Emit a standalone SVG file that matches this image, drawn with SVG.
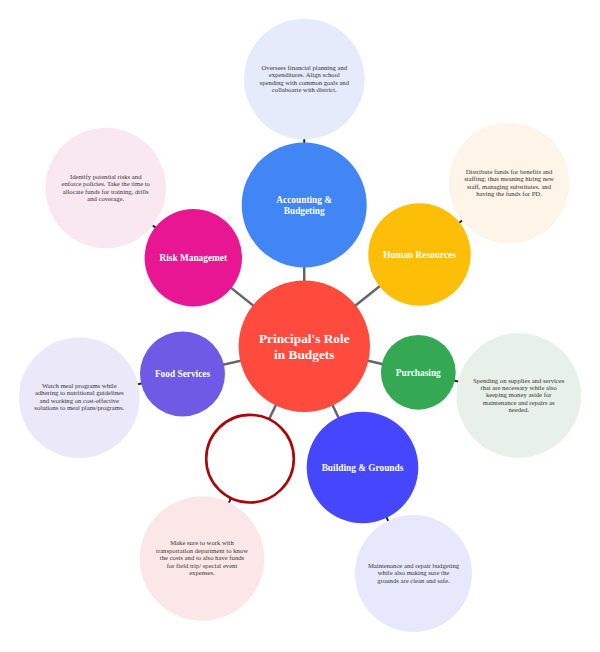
<svg xmlns="http://www.w3.org/2000/svg" width="600" height="652" viewBox="0 0 600 652">
<style>
text{font-family:"Liberation Serif","Times New Roman",serif;text-anchor:middle;opacity:.99}
.root{font-size:13.33px;font-weight:bold;fill:#fff}
.sub{font-size:9.33px;font-weight:bold;fill:#fff}
.leaf{font-size:6.67px;fill:#333}
.c1{stroke:#666;stroke-width:2.5;fill:none}
.c2{stroke:#222;stroke-width:2;fill:none}
</style>
<rect width="600" height="652" fill="#fff"/>
<g id="connectors">
<line class="c1" x1="304.3" y1="346.3" x2="304.2" y2="205"/>
<line class="c1" x1="304.3" y1="346.3" x2="193.3" y2="257.7"/>
<line class="c1" x1="304.3" y1="346.3" x2="419.5" y2="254.5"/>
<line class="c1" x1="304.3" y1="346.3" x2="418.3" y2="372.3"/>
<line class="c1" x1="304.3" y1="346.3" x2="182.5" y2="374"/>
<line class="c1" x1="304.3" y1="346.3" x2="250" y2="458.7"/>
<line class="c1" x1="304.3" y1="346.3" x2="362.5" y2="467.5"/>
<line class="c2" x1="304.2" y1="205" x2="304.3" y2="79"/>
<line class="c2" x1="193.3" y1="257.7" x2="105.7" y2="188"/>
<line class="c2" x1="419.5" y1="254.5" x2="509" y2="183"/>
<line class="c2" x1="418.3" y1="372.3" x2="518.7" y2="395.5"/>
<line class="c2" x1="182.5" y1="374" x2="79.3" y2="397.7"/>
<line class="c2" x1="250" y1="458.7" x2="202" y2="558.5"/>
<line class="c2" x1="362.5" y1="467.5" x2="413.5" y2="573.5"/>
</g>
<g id="leaf-accounting"><circle cx="304.3" cy="79" r="60.3" fill="#e6ebfb"/>
<text class="leaf"><tspan x="304.3" y="70">Oversees financial planning and</tspan><tspan x="304.3" y="77.4">expenditures. Align school</tspan><tspan x="304.3" y="84.8">spending with common goals and</tspan><tspan x="304.3" y="92.2">collaboarte with district.</tspan></text></g>
<g id="leaf-risk"><circle cx="105.7" cy="188" r="60.3" fill="#fae8f0"/>
<text class="leaf"><tspan x="105.7" y="179">Identify potential risks and</tspan><tspan x="105.7" y="186.4">enforce policies. Take the time to</tspan><tspan x="105.7" y="193.8">allocate funds for training, drills</tspan><tspan x="105.7" y="201.2">and coverage.</tspan></text></g>
<g id="leaf-hr"><circle cx="509" cy="183" r="60.3" fill="#fef4e8"/>
<text class="leaf"><tspan x="509" y="174">Distribute funds for benefits and</tspan><tspan x="509" y="181.4">staffing; thus meaning hiring new</tspan><tspan x="509" y="188.8">staff, managing substitutes, and</tspan><tspan x="509" y="196.2">having the funds for PD.</tspan></text></g>
<g id="leaf-purchasing"><circle cx="518.7" cy="395.5" r="62.3" fill="#e7f0e9"/>
<text class="leaf"><tspan x="518.7" y="382.5">Spending on supplies and services</tspan><tspan x="518.7" y="389.9">that are necessary while also</tspan><tspan x="518.7" y="397.3">keeping money aside for</tspan><tspan x="518.7" y="404.7">maintenance and repairs as</tspan><tspan x="518.7" y="412.1">needed.</tspan></text></g>
<g id="leaf-food"><circle cx="79.3" cy="397.7" r="60.3" fill="#ebe8fa"/>
<text class="leaf"><tspan x="79.3" y="388">Watch meal programs while</tspan><tspan x="79.3" y="395.4">adhering to nutritional guidelines</tspan><tspan x="79.3" y="402.8">and working on cost-effective</tspan><tspan x="79.3" y="410.2">solutions to meal plans/programs.</tspan></text></g>
<g id="leaf-transport"><circle cx="202" cy="558.5" r="62.3" fill="#fbe7e8"/>
<text class="leaf"><tspan x="202" y="545.2">Make sure to work with</tspan><tspan x="202" y="552.8">transportation department to know</tspan><tspan x="202" y="560.2">the costs and to also have funds</tspan><tspan x="202" y="567.8">for field trip/ special event</tspan><tspan x="202" y="575.2">expenses.</tspan></text></g>
<g id="leaf-building"><circle cx="413.5" cy="573.5" r="58.5" fill="#e8e8fd"/>
<text class="leaf"><tspan x="413.5" y="568">Maintenance and repair budgeting</tspan><tspan x="413.5" y="575.4">while also making sure the</tspan><tspan x="413.5" y="582.8">grounds are clean and safe.</tspan></text></g>
<g id="node-accounting"><circle cx="304.2" cy="205" r="62.5" fill="#4285f4"/>
<text class="sub"><tspan x="304.2" y="203.2">Accounting &amp;</tspan><tspan x="304.2" y="214">Budgeting</tspan></text></g>
<g id="node-risk"><circle cx="193.3" cy="257.7" r="48.7" fill="#e91693"/>
<text class="sub" x="193.3" y="260.8">Risk Managemet</text></g>
<g id="node-hr"><circle cx="419.5" cy="254.5" r="51.2" fill="#fdbe07"/>
<text class="sub" x="419.5" y="257.8">Human Resources</text></g>
<g id="node-purchasing"><circle cx="418.3" cy="372.3" r="37.4" fill="#34a853"/>
<text class="sub" x="418.3" y="375.5">Purchasing</text></g>
<g id="node-food"><circle cx="182.5" cy="374" r="42.5" fill="#6f5ae6"/>
<text class="sub" x="182.5" y="376.8">Food Services</text></g>
<g id="node-empty"><circle cx="250" cy="458.7" r="43.8" fill="#fff" stroke="#a80808" stroke-width="2.6"/></g>
<g id="node-building"><circle cx="362.5" cy="467.5" r="55.8" fill="#4646ff"/>
<text class="sub" x="362.5" y="470.6">Building &amp; Grounds</text></g>
<g id="node-root"><circle cx="304.3" cy="346.3" r="65.7" fill="#ff4b3e"/>
<text class="root"><tspan x="304.3" y="343.2">Principal's Role</tspan><tspan x="304.3" y="359.2">in Budgets</tspan></text></g>
</svg>
